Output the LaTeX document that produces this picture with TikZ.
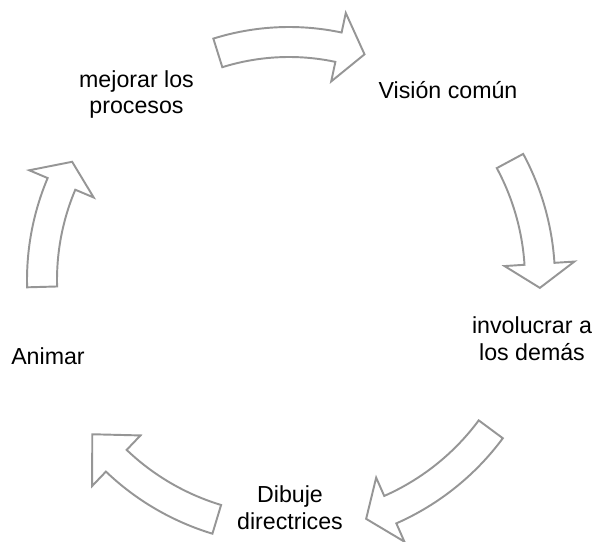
\documentclass[tikz,border=0pt]{standalone}
\usepackage{fontspec}
\setmainfont{Liberation Sans}
\definecolor{arrowgray}{RGB}{150,150,150}
\tikzset{
  label text/.style={align=center, inner sep=0pt,
    font=\fontsize{13.2}{15.2}\selectfont},
  cycle arrow/.style={draw=arrowgray, fill=white, line width=1.1pt, line join=miter}
}
% #1 radius, #2 tail angle, #3 head base angle, #4 tip angle
\newcommand\cyclearrow[4]{%
  \path[cycle arrow]
    (#2:#1+15) arc[start angle=#2, end angle=#3, radius=#1+15]
    -- (#3:#1+35) -- (#4:#1) -- (#3:#1-35) -- (#3:#1-15)
    arc[start angle=#3, end angle=#2, radius=#1-15] -- cycle;}
\begin{document}
\begin{tikzpicture}[x=0.02cm, y=0.02cm]
  \useasboundingbox (0,0) rectangle (597,-541);
  % block arrows around the cycle
  \begin{scope}[shift={(289,-280)}]
    \cyclearrow{238}{107.4}{78}{71.5}
    \cyclearrow{251}{28.3}{3.7}{-1.8}
    \cyclearrow{251}{-36.5}{-66.2}{-72.1}
    \cyclearrow{250}{-106.8}{-133.7}{-141.9}
    \cyclearrow{247}{181.6}{157.1}{151.4}
  \end{scope}
  % cycle stages
  \node[label text] (vision) at (448,-90) {Visión común};
  \node[label text] (involucrar) at (532,-339) {involucrar a\\los demás};
  \node[label text] (dibuje) at (290,-507.5) {Dibuje\\directrices};
  \node[label text] (animar) at (48,-356.5) {Animar};
  \node[label text] (mejorar) at (136.5,-94.5) {mejorar los\\procesos};
\end{tikzpicture}
\end{document}
